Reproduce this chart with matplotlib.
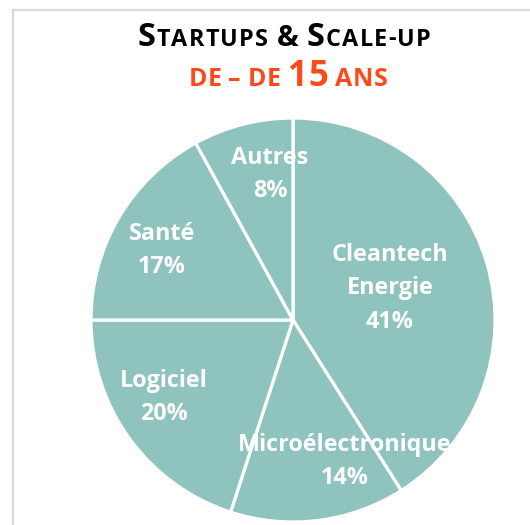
import matplotlib
matplotlib.use("Agg")
import matplotlib.pyplot as plt
import numpy as np
from matplotlib.offsetbox import TextArea, HPacker, AnchoredOffsetbox
from matplotlib.lines import Line2D

categories = ["Cleantech\nEnergie", "Microélectronique", "Logiciel", "Santé", "Autres"]
values = [41, 14, 20, 17, 8]

# label placement (fraction of radius, clockwise angle from top in degrees)
label_pos = [(0.505, 72), (0.745, 160), (0.745, 239), (0.735, 298), (0.73, 351)]

FONT = "Open Sans"
TEAL = "#8EC4BD"
ORANGE = "#FC4A1A"

fig = plt.figure(figsize=(5.30, 5.25), dpi=100)
ax = fig.add_axes([(293 - 202) / 530, (525 - 320 - 202) / 525, 404 / 530, 404 / 525])
wedges, _ = ax.pie(values, colors=[TEAL] * len(values), startangle=90, counterclock=False,
                   wedgeprops=dict(edgecolor="white", linewidth=2.3))
for w in wedges:
    w.set_clip_on(False)
ax.set_xlim(-1, 1)
ax.set_ylim(-1, 1)
ax.set_aspect("equal")
ax.axis("off")

for cat, v, (rf, ang) in zip(categories, values, label_pos):
    t = np.deg2rad(90 - ang)
    ax.text(rf * np.cos(t), rf * np.sin(t), f"{cat}\n{v}%", ha="center", va="center",
            color="white", fontsize=16.8, fontweight="bold", family=FONT,
            linespacing=1.52)

# title with small caps (per-character boxes for slight letter spacing)
def line(pieces, color, pos, sep):
    children = []
    for txt, sz in pieces:
        for ch in txt:
            children.append(TextArea(ch, textprops=dict(fontsize=sz, fontweight="bold",
                                                        color=color, family=FONT)))
    pk = HPacker(children=children, align="baseline", pad=0, sep=sep)
    box = AnchoredOffsetbox(loc="center", child=pk, pad=0, borderpad=0, frameon=False,
                            bbox_to_anchor=pos, bbox_transform=fig.transFigure)
    fig.add_artist(box)

line([("S", 23.5), ("TARTUPS", 16.8), (" ", 16.8), ("&", 21), (" ", 16.8), ("S", 23.5), ("CALE-UP", 16.8)],
     "black", (284 / 530, 1 - 37 / 525), 0.9)
line([("DE", 18), (" ", 18), ("–", 18), (" ", 18), ("DE", 18), (" ", 18), ("15", 25), (" ", 18), ("ANS", 18)],
     ORANGE, (288 / 530, 1 - 77 / 525), 0.25)

# frame border
fig.add_artist(Line2D([13 / 530, 1.0], [1 - 10 / 525, 1 - 10 / 525], color="#D9D9D9", lw=1.6,
                      transform=fig.transFigure))
fig.add_artist(Line2D([13 / 530, 13 / 530], [0, 1 - 10 / 525], color="#D9D9D9", lw=1.6,
                      transform=fig.transFigure))

fig.savefig("out.png", dpi=100, facecolor="white")
